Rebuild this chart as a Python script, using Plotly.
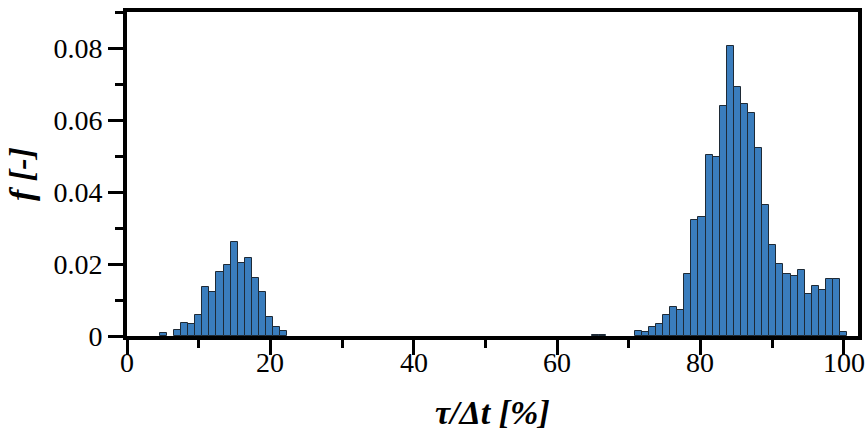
import plotly.graph_objects as go

# Histogram bins (relative time tau/Δt in %)
bin_start = 4.57
bin_width = 0.989

freq_left = [0.0008, 0.0, 0.0018, 0.0037, 0.0032, 0.0058, 0.0137, 0.0121, 0.0178,
             0.0197, 0.0262, 0.0202, 0.0216, 0.0162, 0.0121, 0.0053, 0.0025, 0.0015]
freq_gap1 = [0.0] * 43
freq_mid = [0.0003, 0.0003]
freq_gap2 = [0.0] * 4
freq_right = [0.0013, 0.0010, 0.0024, 0.0032, 0.0058, 0.0080, 0.0073, 0.0171, 0.0322,
              0.0331, 0.0504, 0.0497, 0.0640, 0.0806, 0.0691, 0.0645, 0.0619, 0.0521,
              0.0363, 0.0252, 0.0199, 0.0171, 0.0166, 0.0182, 0.0118, 0.0138, 0.0129,
              0.0158, 0.0158, 0.0011]

freq = freq_left + freq_gap1 + freq_mid + freq_gap2 + freq_right
centers = [bin_start + bin_width * (i + 0.5) for i in range(len(freq))]
xs = [c for c, f in zip(centers, freq) if f > 0]
ys = [f for f in freq if f > 0]

x_ticks = [0, 20, 40, 60, 80, 100]
x_tick_text = ["0", "20", "40", "60", "80", "100"]
y_ticks = [0, 0.02, 0.04, 0.06, 0.08]
y_tick_text = ["0", "0.02", "0.04", "0.06", "0.08"]

FONT = "Liberation Serif"
TICK_FONT = dict(family=FONT, size=28, color="black")
TITLE_FONT = dict(family=FONT, size=34, color="black", weight="bold", style="italic")

fig = go.Figure(go.Bar(
    x=xs, y=ys, width=bin_width,
    marker=dict(color="#3a7dbd", line=dict(color="#1e2a36", width=1)),
))

axis_common = dict(
    showline=True, linewidth=4, linecolor="black", mirror=True,
    ticks="outside", ticklen=15, tickwidth=3, tickcolor="black",
    showgrid=False, zeroline=False, automargin=False,
    tickfont=TICK_FONT,
)

fig.update_xaxes(
    range=[0, 102], tickvals=x_ticks, showticklabels=False,
    minor=dict(ticks="outside", ticklen=8, tickwidth=3, tickcolor="black", dtick=10, tick0=0),
    **axis_common,
)
fig.update_yaxes(
    range=[0, 0.09], tickvals=y_ticks, ticktext=y_tick_text,
    minor=dict(ticks="outside", ticklen=8, tickwidth=3, tickcolor="black", dtick=0.01, tick0=0),
    **axis_common,
)

# x tick labels placed through the x scale (closer to the ticks than Plotly's default)
for v, t in zip(x_ticks, x_tick_text):
    fig.add_annotation(text=t, xref="x", yref="paper", x=v, y=0, yshift=-26,
                       xanchor="center", yanchor="middle", showarrow=False, font=TICK_FONT)

fig.add_annotation(text="τ/Δt [%]", xref="paper", yref="paper", x=0.5, y=-0.235,
                   xanchor="center", yanchor="middle", showarrow=False, font=TITLE_FONT)
fig.add_annotation(text="f [-]", xref="paper", yref="paper", x=-0.145, y=0.5,
                   xanchor="center", yanchor="middle", showarrow=False, textangle=-90,
                   font=TITLE_FONT)

fig.update_layout(
    width=868, height=433,
    margin=dict(l=127, r=10, t=12, b=97),
    plot_bgcolor="white", paper_bgcolor="white",
    bargap=0, showlegend=False,
)

fig.write_html("out.html")
